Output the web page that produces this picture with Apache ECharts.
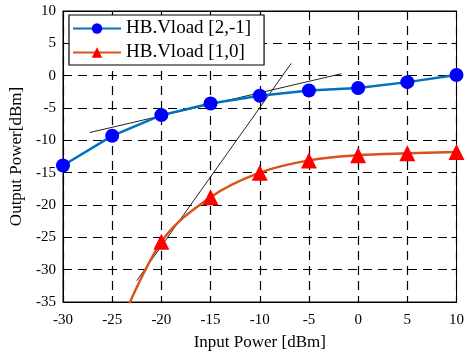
<!DOCTYPE html>
<html>
<head>
<meta charset="utf-8">
<script src="https://cdn.jsdelivr.net/npm/echarts@6/dist/echarts.min.js"></script>
<style>
  html, body { margin: 0; padding: 0; background: #fff; }
  #chart { width: 467px; height: 358px; }
</style>
</head>
<body>
<div id="chart"></div>
<script>
// input power (dBm)
var inputPower = [-30, -25, -20, -15, -10, -5, 0, 5, 10]
// HB.Vload [2,-1]
var vload21 = [-13.9, -9.3, -6.1, -4.3, -3.1, -2.3, -1.9, -1.0, 0.1]
// HB.Vload [1,0] (first point lies below the axis, only the line shows)
var inputPower10 = [-25, -20, -15, -10, -5, 0, 5, 10]
var vload10 = [-41.5, -25.7, -18.8, -15.0, -13.1, -12.3, -12.0, -11.8]
var symbols10 = [false, true, true, true, true, true, true, true]
// two thin black reference lines
var refLineA = [[-27.3, -8.8], [-1.7, 0.3]]
var refLineB = [[-22.5, -31.7], [-6.8, 1.9]]

var serif = 'Liberation Serif'

function pairs (xs, ys) {
  return xs.map(function (x, i) { return [x, ys[i]] })
}

var chart = echarts.init(document.getElementById('chart'))

var tickFont = { fontFamily: serif, fontSize: 15, color: '#000' }
var blackLine = { show: true, onZero: false, lineStyle: { color: '#000' } }
var innerTick = { show: true, inside: true, length: 5, lineStyle: { color: '#000' } }
var dashGrid = { show: true, lineStyle: { color: '#000', type: [9, 6], width: 1.2 } }

chart.setOption({
  animation: false,
  grid: {
    left: 63,
    right: 9,
    top: 11,
    bottom: 56,
    show: true,
    borderColor: '#000',
    borderWidth: 1
  },
  legend: {
    data: ['HB.Vload [2,-1]', 'HB.Vload [1,0]'],
    orient: 'vertical',
    left: 69,
    top: 15,
    padding: [4, 13, 3, 3],
    itemGap: 5,
    itemWidth: 48,
    itemHeight: 13,
    backgroundColor: '#fff',
    borderColor: '#000',
    borderWidth: 1.2,
    textStyle: { fontFamily: serif, fontSize: 19, color: '#000' }
  },
  xAxis: [
    {
      type: 'value',
      min: -30,
      max: 10,
      interval: 5,
      name: 'Input Power [dBm]',
      nameLocation: 'middle',
      nameGap: 32,
      nameTextStyle: { fontFamily: serif, fontSize: 17, color: '#000' },
      axisLine: blackLine,
      axisTick: innerTick,
      axisLabel: Object.assign({ margin: 11 }, tickFont),
      splitLine: dashGrid
    },
    {
      type: 'value',
      position: 'top',
      min: -30,
      max: 10,
      interval: 5,
      axisLine: blackLine,
      axisTick: innerTick,
      axisLabel: { show: false },
      splitLine: { show: false }
    }
  ],
  yAxis: [
    {
      type: 'value',
      min: -35,
      max: 10,
      interval: 5,
      name: 'Output Power[dBm]',
      nameLocation: 'middle',
      nameGap: 32,
      nameTextStyle: { fontFamily: serif, fontSize: 17, color: '#000' },
      axisLine: blackLine,
      axisTick: innerTick,
      axisLabel: Object.assign({ margin: 7 }, tickFont),
      splitLine: dashGrid
    },
    {
      type: 'value',
      position: 'right',
      min: -35,
      max: 10,
      interval: 5,
      axisLine: blackLine,
      axisTick: innerTick,
      axisLabel: { show: false },
      splitLine: { show: false }
    }
  ],
  series: [
    {
      name: 'refA',
      type: 'line',
      data: refLineA,
      symbol: 'none',
      silent: true,
      lineStyle: { color: '#222', width: 1 },
      z: 3
    },
    {
      name: 'refB',
      type: 'line',
      data: refLineB,
      symbol: 'none',
      silent: true,
      lineStyle: { color: '#222', width: 1 },
      z: 3
    },
    {
      name: 'HB.Vload [2,-1]',
      type: 'line',
      data: pairs(inputPower, vload21),
      symbol: 'circle',
      symbolSize: 14,
      itemStyle: { color: '#0000ff' },
      lineStyle: { color: '#0072bd', width: 2.5 },
      z: 4
    },
    {
      name: 'HB.Vload [1,0]',
      type: 'line',
      smooth: 0.35,
      clip: true,
      data: pairs(inputPower10, vload10).map(function (p, i) {
        return { value: p, symbol: symbols10[i] ? 'triangle' : 'none' }
      }),
      symbol: 'triangle',
      symbolSize: 16,
      itemStyle: { color: '#ff0000' },
      lineStyle: { color: '#d95319', width: 2.5 },
      z: 4
    }
  ]
})
</script>
</body>
</html>
